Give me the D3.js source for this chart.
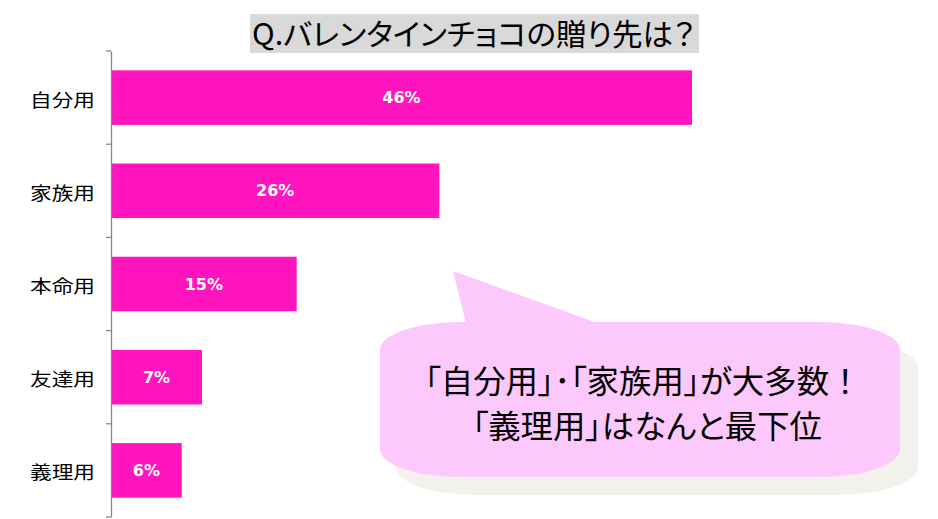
<!DOCTYPE html>
<html>
<head>
<meta charset="utf-8">
<script src="https://cdn.jsdelivr.net/npm/d3@7"></script>
<style>
html,body{margin:0;padding:0;background:#fff;}
svg{display:block;}
.palt{font-feature-settings:"palt" 1;}
.nopalt{font-feature-settings:normal;}
</style>
</head>
<body>
<svg id="chart" width="938" height="519"></svg>
<script>
const titleText = "Q.バレンタインチョコの贈り先は？";
const categories = ["自分用", "家族用", "本命用", "友達用", "義理用"];
const values = [46, 26, 14.7, 7.2, 5.6];
const calloutLines = ["「自分用」･「家族用」が大多数！", "「義理用」はなんと最下位"];

const svg = d3.select("#chart");
const W = 938, H = 519;
svg.append("rect").attr("width", W).attr("height", H).attr("fill", "#fff");

const y = d3.scaleBand().domain(categories).range([51, 517]).paddingInner(0.415).paddingOuter(0.2075);
const x = d3.scaleLinear().domain([0, 46]).range([111, 692]);

// title
svg.append("rect").attr("x", 250).attr("y", 14).attr("width", 449).attr("height", 39).attr("fill", "#d9d9d9");
svg.append("text").attr("x", 252).attr("y", 45).attr("class", "palt")
  .attr("font-family", "'Noto Sans CJK JP', sans-serif").attr("font-size", 30)
  .attr("textLength", 443).attr("lengthAdjust", "spacingAndGlyphs")
  .attr("fill", "#000").text(titleText);

// bars
svg.selectAll("rect.bar").data(values).join("rect").attr("class", "bar")
  .attr("x", x(0)).attr("y", (d, i) => y(categories[i]))
  .attr("width", d => x(d) - x(0)).attr("height", y.bandwidth())
  .attr("fill", "#ff14bd");

svg.selectAll("text.val").data(values).join("text").attr("class", "val")
  .attr("x", d => (x(0) + x(d)) / 2).attr("y", (d, i) => y(categories[i]) + y.bandwidth() / 2)
  .attr("text-anchor", "middle").attr("dominant-baseline", "central")
  .attr("font-family", "'DejaVu Sans', sans-serif").attr("font-weight", "bold").attr("font-size", 16)
  .attr("fill", "#fff").text(d => d3.format(".0f")(d) + "%");

// axis
const axis = d3.axisLeft(y).tickSize(0).tickFormat("");
const ag = svg.append("g").attr("transform", `translate(${x(0)},0)`).call(axis);
ag.select(".domain").attr("stroke", "#888").attr("stroke-width", 1.3);
const bounds = [51].concat(categories.map(c => y(c) + y.bandwidth() + y.step() * y.paddingInner() / 2));
bounds[bounds.length - 1] = 517;
ag.selectAll("line.sep").data(bounds).join("line").attr("class", "sep")
  .attr("x1", -5).attr("x2", 0).attr("y1", d => d).attr("y2", d => d)
  .attr("stroke", "#888").attr("stroke-width", 1.3);

svg.selectAll("text.cat").data(categories).join("text").attr("class", "cat")
  .attr("x", 95).attr("y", d => y(d) + y.bandwidth() / 2 + 1)
  .attr("text-anchor", "end").attr("dominant-baseline", "central")
  .attr("font-family", "'Noto Sans CJK JP', sans-serif").attr("font-size", 18)
  .attr("textLength", 65).attr("lengthAdjust", "spacingAndGlyphs")
  .attr("fill", "#000").text(d => d);

// callout
function bubble(x0, y0, x1, y1, rx, ry) {
  return `M${x0 + rx},${y0} H${x1 - rx} A${rx},${ry} 0 0 1 ${x1},${y0 + ry} V${y1 - ry} A${rx},${ry} 0 0 1 ${x1 - rx},${y1} H${x0 + rx} A${rx},${ry} 0 0 1 ${x0},${y1 - ry} V${y0 + ry} A${rx},${ry} 0 0 1 ${x0 + rx},${y0} Z`;
}
svg.append("path").attr("d", bubble(396, 340, 918, 495, 80, 28)).attr("fill", "#f2f1ec");
svg.append("path").attr("d", bubble(380, 322, 900, 477, 80, 28)).attr("fill", "#fdc8fb");
svg.append("path").attr("d", "M466,323 L453,271 L597,323 Z").attr("fill", "#fdc8fb");

const cx = [643, 647], cy = [393, 438], tl = [437, 350];
calloutLines.forEach((t, i) => {
  const txt = svg.append("text").attr("x", cx[i]).attr("y", cy[i]).attr("text-anchor", "middle").attr("class", "palt")
    .attr("font-family", "'Noto Sans CJK JP', sans-serif").attr("font-size", 32).attr("font-weight", 400)
    .attr("textLength", tl[i]).attr("lengthAdjust", "spacingAndGlyphs")
    .attr("fill", "#000");
  if (t.endsWith("！")) {
    txt.append("tspan").text(t.slice(0, -1));
    txt.append("tspan").attr("class", "nopalt").text("！");
  } else {
    txt.text(t);
  }
});
</script>
</body>
</html>
